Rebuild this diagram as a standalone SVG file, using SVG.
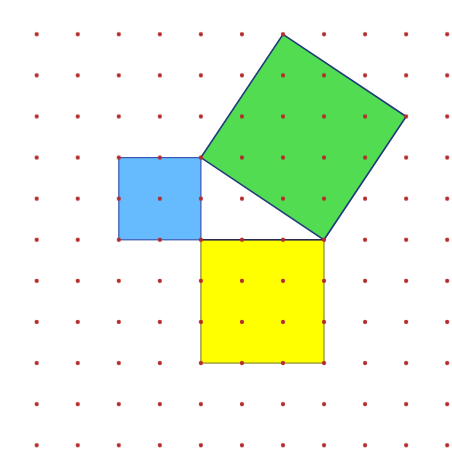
<svg xmlns="http://www.w3.org/2000/svg" width="452" height="454" viewBox="0 0 452 454">
  <style>
    .sq { stroke-linejoin: miter; }
    .dot { fill: #b52a2a; }
  </style>
  <defs>
    <pattern id="grid" patternUnits="userSpaceOnUse" x="16.175" y="13.75" width="41.05" height="41.1">
      <circle class="dot" cx="20.525" cy="20.55" r="2.1"/>
    </pattern>
  </defs>
  <rect width="452" height="454" fill="#ffffff"/>
  <g id="green-square">
    <polygon class="sq" points="283,34.3 406.2,116.5 324,239.8 200.9,157.6" fill="#52dc52" stroke="#1f3a7a" stroke-width="1.6"/>
  </g>
  <g id="blue-square">
    <rect class="sq" x="118.8" y="157.6" width="82.1" height="82.2" fill="#66bbff" stroke="#3a56b0" stroke-width="1.2"/>
  </g>
  <g id="yellow-square">
    <rect class="sq" x="200.9" y="239.8" width="123.1" height="123.3" fill="#ffff00" stroke="#8a8a30" stroke-width="1.2"/>
    <line x1="200.9" y1="239.8" x2="324" y2="239.8" stroke="#2a2a50" stroke-width="1.4"/>
  </g>
  <g id="connectors"></g>
  <g id="dots">
    <rect x="16.175" y="13.75" width="451.55" height="452.1" fill="url(#grid)"/>
  </g>
</svg>
